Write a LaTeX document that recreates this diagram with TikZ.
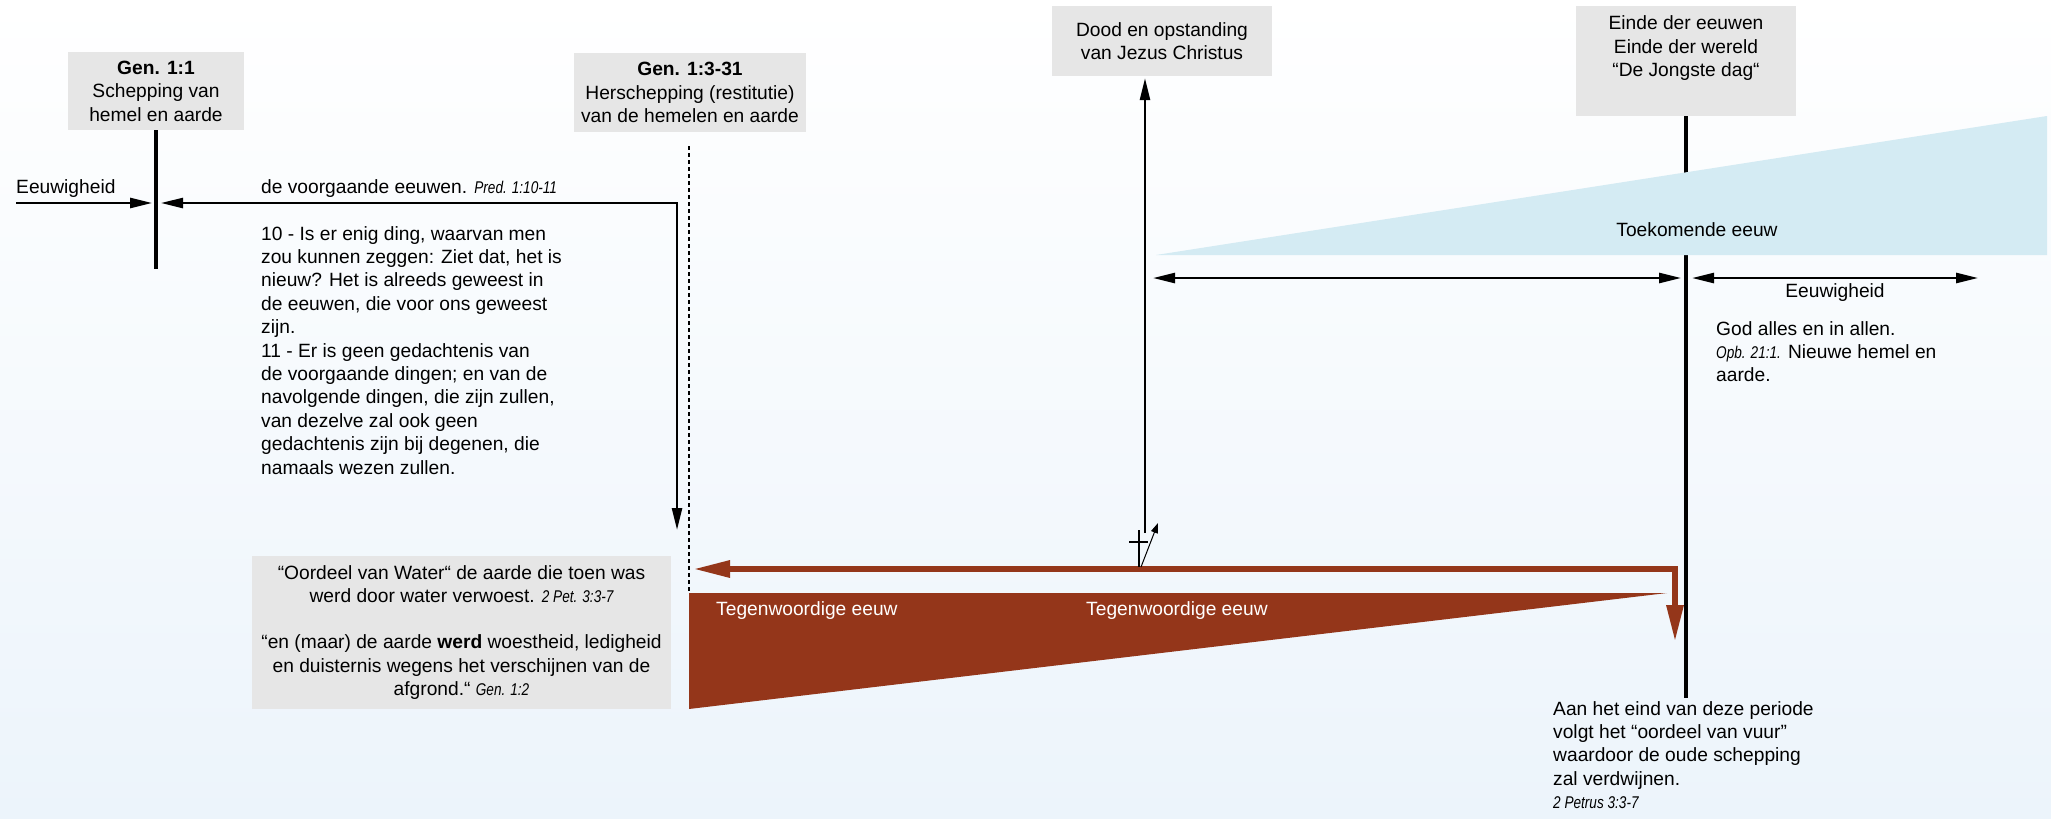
\documentclass[tikz,border=0pt]{standalone}
\usepackage{fontspec}
\setmainfont{Liberation Sans}
\newfontfamily\refsmal[FakeStretch=0.8]{Liberation Sans}
\usetikzlibrary{arrows.meta}

\definecolor{gris}{RGB}{230,230,230}
\definecolor{ladrillo}{RGB}{148,54,26}
\definecolor{celeste}{RGB}{212,235,243}
\definecolor{fondo}{RGB}{236,244,251}

\newcommand{\bijbel}[1]{{\refsmal\itshape\fontsize{17}{20}\selectfont #1}}

\begin{document}
\begin{tikzpicture}[x=1pt, y=-1pt,
    every node/.style={font=\fontsize{19.2}{23.4}\selectfont, inner sep=0pt},
    caja/.style={fill=gris, align=center},
    dik/.style={line width=4.5pt},
    pijl/.style={line width=2.5pt},
    >={Triangle[length=22pt,width=10pt]}]

    % Fondo
    \shade[top color=white, bottom color=fondo] (0,0) rectangle (2051,819);
    \useasboundingbox (0,0) rectangle (2051,819);

    % Gen. 1:1
    \node[caja, minimum width=176pt, minimum height=78pt] (gen11) at (156,91)
        {\textbf{Gen. 1:1}\\Schepping van\\hemel en aarde};
    \coordinate (gen11voet) at (156,269);
    \draw[dik] (gen11.south) -- (gen11voet);

    \node[anchor=base west] (eeuwlinks) at (16,193) {Eeuwigheid};
    \coordinate (links) at (16,203);
    \coordinate (gen11in) at (152,203);
    \draw[pijl, ->] (links) -- (gen11in);

    \coordinate (gen11uit) at (161,203);
    \coordinate (waterpunt) at (677,530);
    \draw[pijl, <->] (gen11uit) -| (waterpunt);

    \node[anchor=base west] (pred) at (261,193)
        {de voorgaande eeuwen. \bijbel{Pred. 1:10-11}};
    \node[anchor=north west, align=left] (prediker) at (261,226)
        {10 - Is er enig ding, waarvan men\\
         zou kunnen zeggen: Ziet dat, het is\\
         nieuw? Het is alreeds geweest in\\
         de eeuwen, die voor ons geweest\\
         zijn.\\
         11 - Er is geen gedachtenis van\\
         de voorgaande dingen; en van de\\
         navolgende dingen, die zijn zullen,\\
         van dezelve zal ook geen\\
         gedachtenis zijn bij degenen, die\\
         namaals wezen zullen.};

    % Gen. 1:3-31
    \node[caja, minimum width=232pt, minimum height=79pt] (gen13) at (690,92.5)
        {\textbf{Gen. 1:3-31}\\Herschepping (restitutie)\\van de hemelen en aarde};
    \coordinate (streepboven) at (689,146);
    \coordinate (streeponder) at (689,593);
    \draw[line width=1.2pt, dash pattern=on 4pt off 3pt] (streepboven) -- (streeponder);

    % Oordeel van water
    \node[caja, minimum width=419pt, minimum height=153pt] (oordeel) at (461.5,632.5)
        {“Oordeel van Water“ de aarde die toen was\\
         werd door water verwoest. \bijbel{2 Pet. 3:3-7}\\[23pt]
         “en (maar) de aarde \textbf{werd} woestheid, ledigheid\\
         en duisternis wegens het verschijnen van de\\
         afgrond.“ \bijbel{Gen. 1:2}};

    % Tegenwoordige eeuw
    \fill[ladrillo] (689,593) -- (1667,593) -- (689,709) -- cycle;
    \node[white, anchor=base west] (tegen1) at (716,615) {Tegenwoordige eeuw};
    \node[white, anchor=base west] (tegen2) at (1086,615) {Tegenwoordige eeuw};

    \coordinate (bruinlinks) at (693,569);
    \coordinate (bruinpunt) at (1675,642);
    \draw[ladrillo, line width=6pt, line join=miter,
          >={Triangle[length=37pt,width=16pt]}, <->] (bruinlinks) -| (bruinpunt);

    % Dood en opstanding
    \node[caja, minimum width=220pt, minimum height=70pt] (dood) at (1162,41)
        {Dood en opstanding\\van Jezus Christus};
    \coordinate (kruisvoet) at (1145,533);
    \draw[pijl, ->] (kruisvoet) -- ([yshift=-2pt]kruisvoet |- dood.south);

    \draw[line width=1.8pt] (1139,530) -- (1139,567);
    \draw[line width=1.8pt] (1129,542) -- (1148,542);
    \draw[line width=1pt, -{Triangle[length=10pt,width=7pt]}] (1141,567) -- (1158,523);

    % Einde der eeuwen
    \node[caja, minimum width=220pt, minimum height=110pt] (einde) at (1686,61) {};
    \node[anchor=north, align=center] (eindetekst) at ([yshift=-10pt]einde.north)
        {Einde der eeuwen\\Einde der wereld\\“De Jongste dag“};
    \coordinate (eindevoet) at (1686,698);
    \draw[dik] (einde.south) -- (eindevoet);

    % Toekomende eeuw
    \fill[celeste] (1156,255) -- (2047,116) -- (2047,255) -- cycle;
    \node[anchor=base] (toekomend) at (1697,236) {Toekomende eeuw};

    \coordinate (tijdlinks) at (1153,278);
    \coordinate (tijdrechts) at (1681,278);
    \draw[pijl, <->] (tijdlinks) -- (tijdrechts);
    \coordinate (eeuwlinks2) at (1692,278);
    \coordinate (eeuwrechts) at (1978,278);
    \draw[pijl, <->] (eeuwlinks2) -- (eeuwrechts);
    \node[anchor=base] (eeuwrechtstekst) at (1835,297) {Eeuwigheid};

    \node[anchor=north west, align=left] (god) at (1716,321)
        {God alles en in allen.\\
         \bijbel{Opb. 21:1.} Nieuwe hemel en\\
         aarde.};

    \node[anchor=north west, align=left] (vuur) at (1553,701)
        {Aan het eind van deze periode\\
         volgt het “oordeel van vuur”\\
         waardoor de oude schepping\\
         zal verdwijnen.\\
         \bijbel{2 Petrus 3:3-7}};

\end{tikzpicture}
\end{document}
